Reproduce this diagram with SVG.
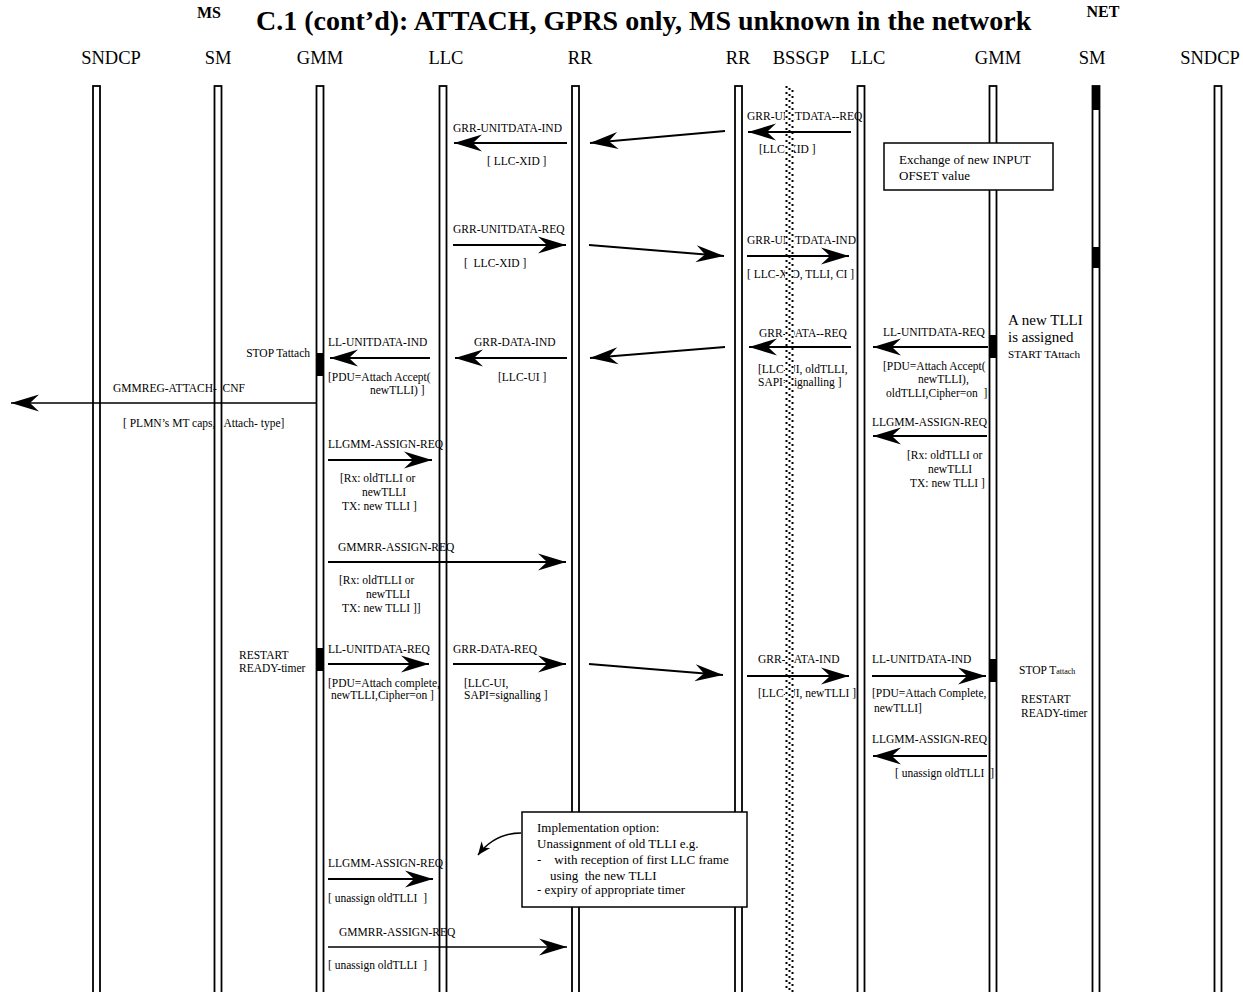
<svg xmlns="http://www.w3.org/2000/svg" width="1243" height="992" viewBox="0 0 1243 992">
<defs>
<marker id="ah" markerUnits="userSpaceOnUse" viewBox="-29 -10 30 20" refX="0" refY="0" markerWidth="30" markerHeight="20" orient="auto">
<path d="M0,0 L-28,-8.5 L-19,0 L-28,8.5 Z" fill="#000"/>
</marker>
<marker id="ahs" markerUnits="userSpaceOnUse" viewBox="-14 -7 15 14" refX="0" refY="0" markerWidth="15" markerHeight="14" orient="auto">
<path d="M0,0 L-13,-5.5 L-9,0 L-13,5.5 Z" fill="#000"/>
</marker>
</defs>
<style>
.ll{fill:#fff;stroke:#000;stroke-width:1.8}
.act{fill:#000}
.hd{font-family:"Liberation Serif",serif;font-size:18.5px;text-anchor:middle;fill:#000}
.tt{font-family:"Liberation Serif",serif;font-weight:bold;fill:#000}
.t{font-family:"Liberation Serif",serif;font-size:11.5px;fill:#000}
.nt{font-family:"Liberation Serif",serif;font-size:13px;fill:#000}
.m{stroke:#000;stroke-width:2;fill:none;marker-end:url(#ah)}
.box{fill:#fff;stroke:#000;stroke-width:1.5}
.dot{stroke:#000;stroke-width:2;stroke-dasharray:2 4;fill:none}
</style>
<rect width="1243" height="992" fill="#fff"/>

<g id="title">
<text class="tt" x="256" y="30" font-size="28">C.1 (cont’d): ATTACH, GPRS only, MS unknown in the network</text>
<text class="tt" x="209" y="18" font-size="16" text-anchor="middle">MS</text>
<text class="tt" x="1103" y="17" font-size="16" text-anchor="middle">NET</text>
</g>

<g id="ms-sndcp"><rect class="ll" x="93" y="86" width="7" height="912"/><text class="hd" x="111" y="64">SNDCP</text></g>
<g id="ms-sm"><rect class="ll" x="214.5" y="86" width="7" height="912"/><text class="hd" x="218" y="64">SM</text></g>
<g id="ms-gmm"><rect class="ll" x="316.5" y="86" width="7" height="912"/><text class="hd" x="320" y="64">GMM</text>
<rect class="act" x="316" y="353" width="8" height="23"/><rect class="act" x="316" y="648" width="8" height="23"/></g>
<g id="ms-llc"><rect class="ll" x="439.5" y="86" width="7" height="912"/><text class="hd" x="446" y="64">LLC</text></g>
<g id="ms-rr"><rect class="ll" x="572" y="86" width="7" height="912"/><text class="hd" x="580" y="64">RR</text></g>
<g id="net-rr"><rect class="ll" x="735" y="86" width="7" height="912"/><text class="hd" x="738" y="64">RR</text></g>
<g id="net-llc"><rect class="ll" x="857.5" y="86" width="7" height="912"/><text class="hd" x="868" y="64">LLC</text></g>
<g id="net-gmm"><rect class="ll" x="989.5" y="86" width="7" height="912"/><text class="hd" x="998" y="64">GMM</text>
<rect class="act" x="989" y="335" width="8" height="23"/><rect class="act" x="989" y="659" width="8" height="23"/></g>
<g id="net-sm"><rect class="ll" x="1092.5" y="86" width="7" height="912"/><text class="hd" x="1092" y="64">SM</text>
<rect class="act" x="1092" y="86" width="8" height="24"/><rect class="act" x="1092" y="247" width="8" height="21"/></g>
<g id="net-sndcp"><rect class="ll" x="1214.5" y="86" width="7" height="912"/><text class="hd" x="1210" y="64">SNDCP</text></g>

<g id="labels">
<text class="t" x="747" y="120">GRR-UNITDATA--REQ</text>
<text class="t" x="759" y="153">[LLC-XID ]</text>
<text class="t" x="453" y="132">GRR-UNITDATA-IND</text>
<text class="t" x="487" y="165">[ LLC-XID ]</text>
<text class="t" x="453" y="233">GRR-UNITDATA-REQ</text>
<text class="t" x="464" y="267" xml:space="preserve">[  LLC-XID ]</text>
<text class="t" x="747" y="244">GRR-UNITDATA-IND</text>
<text class="t" x="747" y="278">[ LLC-XID, TLLI, CI ]</text>

<text class="t" x="759" y="337">GRR-DATA--REQ</text>
<text class="t" x="758" y="373">[LLC-UI, oldTLLI,</text>
<text class="t" x="758" y="386">SAPI=signalling ]</text>
<text class="t" x="883" y="336">LL-UNITDATA-REQ</text>
<text class="t" x="883" y="370">[PDU=Attach Accept(</text>
<text class="t" x="918" y="383">newTLLI),</text>
<text class="t" x="886" y="397" xml:space="preserve">oldTLLI,Cipher=on  ]</text>
<text x="1008" y="325" font-family="Liberation Serif, serif" font-size="15">A new TLLI</text>
<text x="1008" y="342" font-family="Liberation Serif, serif" font-size="15">is assigned</text>
<text x="1008" y="358" font-family="Liberation Serif, serif" font-size="11.2">START TAttach</text>

<text class="t" x="474" y="346">GRR-DATA-IND</text>
<text class="t" x="498" y="381">[LLC-UI ]</text>
<text class="t" x="328" y="346">LL-UNITDATA-IND</text>
<text class="t" x="328" y="381">[PDU=Attach Accept(</text>
<text class="t" x="370" y="394">newTLLI) ]</text>
<text class="t" x="310" y="357" text-anchor="end">STOP Tattach</text>
<text class="t" x="113" y="392" xml:space="preserve">GMMREG-ATTACH-  CNF</text>
<text class="t" x="123" y="427" xml:space="preserve">[ PLMN’s MT caps,   Attach- type]</text>

<text class="t" x="872" y="426">LLGMM-ASSIGN-REQ</text>
<text class="t" x="907" y="459">[Rx: oldTLLI or</text>
<text class="t" x="928" y="473">newTLLI</text>
<text class="t" x="910" y="487">TX: new TLLI ]</text>

<text class="t" x="328" y="448">LLGMM-ASSIGN-REQ</text>
<text class="t" x="340" y="482">[Rx: oldTLLI or</text>
<text class="t" x="362" y="496">newTLLI</text>
<text class="t" x="342" y="510">TX: new TLLI ]</text>

<text class="t" x="338" y="551">GMMRR-ASSIGN-REQ</text>
<text class="t" x="339" y="584">[Rx: oldTLLI or</text>
<text class="t" x="366" y="598">newTLLI</text>
<text class="t" x="342" y="612">TX: new TLLI ]]</text>

<text class="t" x="239" y="659">RESTART</text>
<text class="t" x="239" y="672">READY-timer</text>
<text class="t" x="328" y="653">LL-UNITDATA-REQ</text>
<text class="t" x="328" y="687">[PDU=Attach complete,</text>
<text class="t" x="331" y="699">newTLLI,Cipher=on ]</text>
<text class="t" x="453" y="653">GRR-DATA-REQ</text>
<text class="t" x="464" y="687">[LLC-UI,</text>
<text class="t" x="464" y="699">SAPI=signalling ]</text>

<text class="t" x="758" y="663">GRR-DATA-IND</text>
<text class="t" x="758" y="697">[LLC-UI, newTLLI ]</text>
<text class="t" x="872" y="663">LL-UNITDATA-IND</text>
<text class="t" x="872" y="697">[PDU=Attach Complete,</text>
<text class="t" x="874" y="712">newTLLI]</text>
<text class="t" x="1019" y="674">STOP T<tspan font-size="8">attach</tspan></text>
<text class="t" x="1021" y="703">RESTART</text>
<text class="t" x="1021" y="717">READY-timer</text>
<text class="t" x="872" y="743">LLGMM-ASSIGN-REQ</text>
<text class="t" x="895" y="777" xml:space="preserve">[ unassign oldTLLI  ]</text>

<text class="t" x="328" y="867">LLGMM-ASSIGN-REQ</text>
<text class="t" x="328" y="902" xml:space="preserve">[ unassign oldTLLI  ]</text>
<text class="t" x="339" y="936">GMMRR-ASSIGN-REQ</text>
<text class="t" x="328" y="969" xml:space="preserve">[ unassign oldTLLI  ]</text>
</g>

<g id="bssgp">
<text class="hd" x="801" y="64">BSSGP</text>
<rect x="785" y="86" width="9" height="906" fill="#fff"/>
<line class="dot" x1="786.5" y1="86" x2="786.5" y2="992"/>
<line class="dot" x1="789.5" y1="88" x2="789.5" y2="992"/>
<line class="dot" x1="792.5" y1="90" x2="792.5" y2="992"/>
</g>

<g id="note-offset">
<rect class="box" x="884" y="143" width="169" height="47"/>
<text class="nt" x="899" y="164">Exchange of new INPUT</text>
<text class="nt" x="899" y="180">OFSET value</text>
</g>

<g id="note-impl">
<rect class="box" x="522" y="812" width="225" height="95"/>
<text class="nt" x="537" y="832">Implementation option:</text>
<text class="nt" x="537" y="848">Unassignment of old TLLI e.g.</text>
<text class="nt" x="537" y="864" xml:space="preserve">-    with reception of first LLC frame</text>
<text class="nt" x="550" y="880" xml:space="preserve">using  the new TLLI</text>
<text class="nt" x="537" y="894">- expiry of appropriate timer</text>
</g>

<g id="connectors">
<line class="m" x1="851" y1="132" x2="748" y2="132"/>
<line class="m" x1="725" y1="131" x2="590" y2="143"/>
<line class="m" x1="567" y1="143" x2="454" y2="143"/>
<line class="m" x1="453" y1="245" x2="566" y2="245"/>
<line class="m" x1="589" y1="245" x2="724" y2="256"/>
<line class="m" x1="747" y1="256" x2="849" y2="256"/>

<line class="m" x1="988" y1="347" x2="873" y2="347"/>
<line class="m" x1="851" y1="347" x2="749" y2="347"/>
<line class="m" x1="725" y1="347" x2="590" y2="358"/>
<line class="m" x1="567" y1="358" x2="455" y2="358"/>
<line class="m" x1="430" y1="358" x2="330" y2="358"/>
<line class="m" x1="317" y1="403" x2="11" y2="403" style="stroke-width:1.6"/>
<line class="m" x1="987" y1="436" x2="873" y2="436"/>
<line class="m" x1="328" y1="460" x2="432" y2="460"/>
<line class="m" x1="328" y1="562" x2="566" y2="562"/>

<line class="m" x1="328" y1="664" x2="429" y2="664"/>
<line class="m" x1="453" y1="664" x2="566" y2="664"/>
<line class="m" x1="589" y1="664" x2="723" y2="675"/>
<line class="m" x1="747" y1="676" x2="849" y2="676"/>
<line class="m" x1="872" y1="676" x2="986" y2="676"/>
<line class="m" x1="987" y1="756" x2="873" y2="756"/>

<path d="M521,833 C503,833 488,842 478,855" style="stroke:#000;stroke-width:1.5;fill:none;marker-end:url(#ahs)"/>
<line class="m" x1="328" y1="879" x2="433" y2="879"/>
<line class="m" x1="328" y1="947" x2="567" y2="947" style="stroke-width:1.6"/>
</g>
</svg>
